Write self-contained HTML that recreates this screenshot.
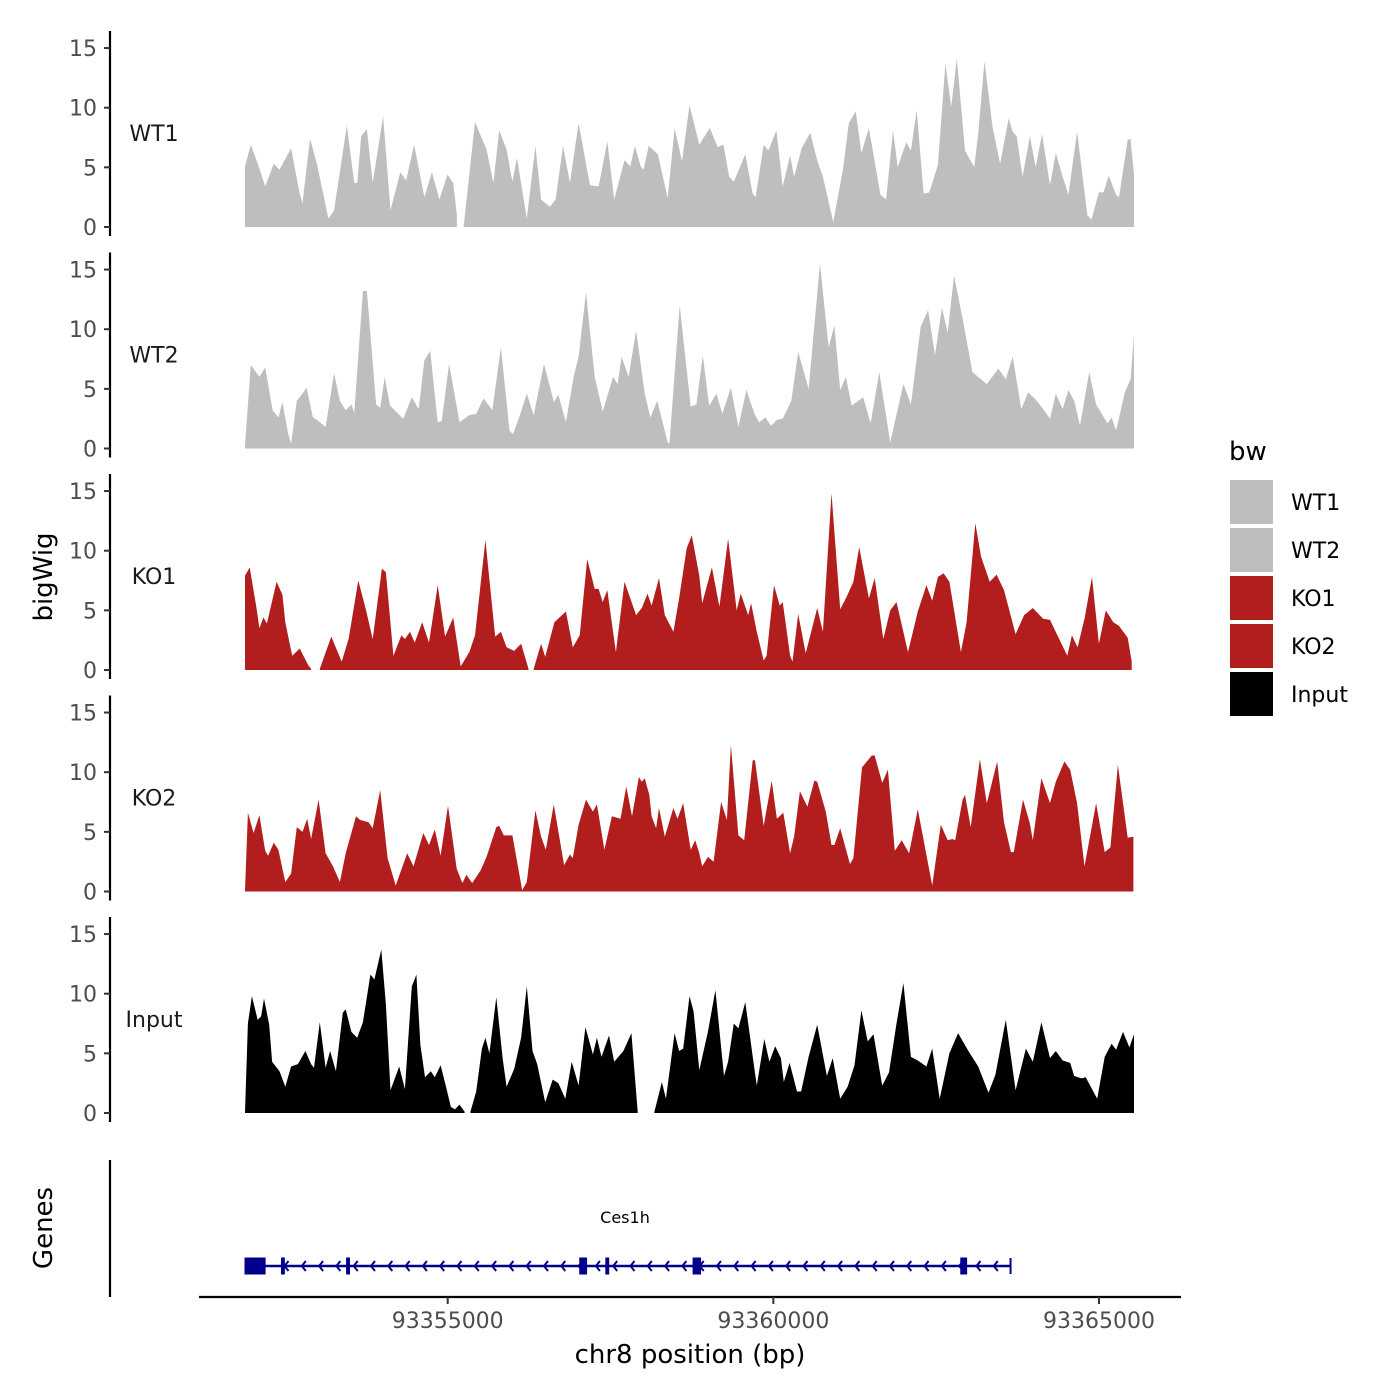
<!DOCTYPE html>
<html><head><meta charset="utf-8"><style>
html,body{margin:0;padding:0;background:#fff;}
svg{display:block;font-family:"DejaVu Sans","Liberation Sans",sans-serif;}
</style></head><body>
<svg id="chart" width="1400" height="1400" viewBox="0 0 1400 1400" xmlns="http://www.w3.org/2000/svg">
<rect x="0" y="0" width="1400" height="1400" fill="#fff"/>
<text x="0" y="0" transform="translate(52,577) rotate(-90)" text-anchor="middle" font-size="26" fill="#000">bigWig</text>
<text x="0" y="0" transform="translate(52,1228) rotate(-90)" text-anchor="middle" font-size="26" fill="#000">Genes</text>
<text x="690" y="1363" text-anchor="middle" font-size="26" fill="#000">chr8 position (bp)</text>
<g id="legend">
<text x="1229" y="460" font-size="26" fill="#000">bw</text>
</g>
</svg>
<script>
const START = 93351800;
const OFFSET_SCALE = 0.98864;
const trackNames = ["WT1","WT2","KO1","KO2","Input"];
const trackColors = ["#bebebe","#bebebe","#b21e1e","#b21e1e","#000000"];
const yTicks = [0,5,10,15];
const xTicks = [93355000,93360000,93365000];

const wt1Pos = [89,179,313,402,536,625,804,938,982,1098,1206,1384,1473,1670,1786,1831,1893,1982,2072,2233,2349,2500,2590,2715,2875,2992,3108,3233,3322,3380,3420,3483,3661,3840,3947,4036,4152,4242,4313,4465,4599,4688,4822,4912,5028,5135,5269,5447,5581,5715,5822,5983,6072,6144,6233,6278,6358,6501,6653,6760,6876,6992,7144,7305,7430,7519,7608,7680,7858,7974,8019,8144,8216,8341,8439,8555,8617,8734,8867,8975,9064,9225,9377,9466,9573,9662,9778,9957,10046,10153,10225,10359,10431,10520,10627,10716,10850,10966,11056,11145,11270,11413,11476,11574,11698,11815,11949,12011,12074,12163,12279,12368,12466,12591,12681,12788,12877,13011,13172,13234,13350,13422,13502,13618,13663,13797,13841,13895];
const wt1Val = [5.1,6.9,4.9,3.4,5.3,4.8,6.6,2.8,2.0,7.4,5.3,0.7,1.4,8.5,3.7,3.7,7.6,8.2,3.7,9.3,1.4,4.6,3.9,6.9,2.5,4.6,2.3,4.4,3.7,1.0,null,0,8.8,6.5,3.7,8.1,6.5,3.8,5.8,0.7,6.8,2.3,1.7,2.3,6.8,3.7,8.7,3.5,3.4,7.2,2.3,5.6,5.1,6.8,5.1,4.8,6.8,6.1,2.4,8.3,5.5,10.2,6.9,8.3,6.7,6.9,4.2,3.8,6.1,2.8,2.5,6.9,6.4,8.1,3.4,6.0,4.2,6.6,7.9,5.6,4.2,0.4,4.9,8.7,9.7,6.2,8.3,2.7,2.3,8.1,5.0,7.1,6.4,9.8,2.8,2.9,5.2,13.7,10.1,14.1,6.4,5.0,7.8,13.9,8.4,5.3,9.1,8.0,7.6,4.2,7.6,5.0,7.8,3.5,6.2,4.2,2.7,8.0,1.0,0.6,2.9,2.9,4.3,2.7,2.5,7.3,7.4,4.4];

const wt2Pos = [89,179,313,402,518,607,670,759,804,893,982,1045,1143,1206,1340,1473,1563,1652,1741,1786,1920,1982,2125,2188,2259,2340,2545,2679,2786,2875,2965,3081,3143,3259,3420,3572,3679,3795,3929,4063,4197,4251,4358,4465,4572,4733,4885,4956,5072,5197,5269,5385,5519,5644,5805,5876,5938,6046,6162,6296,6385,6492,6653,6680,6840,7010,7099,7198,7296,7412,7501,7635,7751,7876,8001,8073,8171,8260,8350,8439,8573,8680,8841,9019,9153,9243,9332,9421,9510,9689,9805,9939,10109,10314,10430,10582,10698,10805,10912,11002,11100,11234,11386,11609,11788,11904,12011,12145,12252,12368,12457,12591,12681,12788,12877,12966,13056,13199,13306,13484,13547,13618,13752,13842,13895];
const wt2Val = [0.3,7.0,6.0,6.8,3.2,2.6,3.9,1.2,0.4,4.0,4.6,5.1,2.6,2.4,1.8,6.3,4.0,3.2,3.7,3.0,13.2,13.2,3.7,3.4,6.0,3.6,2.5,4.3,3.3,7.4,8.2,2.2,2.3,7.1,2.2,2.8,2.9,4.2,3.2,8.5,1.5,1.2,2.8,4.6,2.8,7.1,3.9,4.5,2.2,6.1,7.7,13.1,6.0,3.1,6.0,5.4,7.7,6.0,9.9,4.6,2.6,4.0,0.5,0.4,12.0,3.5,3.7,7.8,3.6,4.6,2.9,5.1,1.8,4.9,2.9,2.2,2.6,1.9,2.4,2.5,4.0,8.1,5.0,15.5,8.5,10.3,4.9,6.0,3.6,4.3,2.1,6.4,0.5,5.4,3.7,10.2,11.6,7.8,11.8,9.7,14.5,10.9,6.4,5.4,6.7,5.8,7.7,3.3,4.7,4.1,3.5,2.5,4.6,3.3,4.9,4.0,1.9,6.4,3.7,2.1,2.6,1.5,4.7,5.8,9.5];

const ko1Pos = [89,161,268,313,375,429,580,670,714,822,938,1072,1116,1180,1250,1429,1590,1697,1849,1965,2072,2215,2277,2393,2518,2572,2652,2724,2840,2947,3081,3197,3322,3438,3572,3661,3822,3974,4063,4152,4269,4376,4492,4530,4572,4688,4751,4894,5072,5179,5287,5403,5519,5581,5644,5715,5849,5983,6162,6251,6340,6403,6519,6608,6742,6831,6948,7028,7144,7189,7340,7457,7591,7725,7787,7903,7948,8037,8144,8189,8305,8394,8439,8555,8591,8680,8796,8975,9064,9198,9332,9421,9537,9627,9778,9868,10002,10109,10207,10386,10537,10671,10761,10850,10939,11029,11207,11296,11430,11520,11654,11761,11877,12056,12189,12323,12484,12591,12698,12859,12931,13020,13127,13243,13350,13458,13574,13663,13797,13859];
const ko1Val = [7.9,8.6,5.2,3.5,4.4,3.9,7.4,6.3,4.0,1.2,1.8,0.4,0.1,null,0.1,2.8,0.7,2.6,7.5,5.1,2.6,8.5,8.2,1.2,2.9,2.6,3.2,2.3,4.0,2.3,7.1,2.8,4.4,0.3,1.5,2.9,10.9,2.8,3.2,1.9,1.6,2.2,0.1,null,0.1,2.2,1.1,4.0,4.9,1.9,2.9,9.3,6.8,6.8,5.7,6.7,1.5,7.4,4.6,5.2,6.4,5.4,7.7,4.6,3.2,6.0,10.2,11.3,7.9,5.6,8.6,5.3,11.0,5.0,6.4,4.6,5.6,3.2,0.8,1.2,7.1,5.4,5.7,1.2,0.7,4.7,1.4,5.2,3.2,14.8,5.1,6.0,7.4,10.3,6.0,7.7,2.6,5.0,5.7,1.5,4.9,7.1,5.8,7.8,8.1,7.4,1.5,4.0,12.3,9.5,7.4,8.0,6.7,3.0,4.6,5.2,4.3,4.2,3.0,1.2,2.9,1.9,4.3,7.8,2.2,5.0,4.0,3.7,2.7,0.7];

const ko2Pos = [89,134,223,313,402,447,536,607,714,804,893,982,1054,1116,1232,1340,1456,1563,1652,1813,1875,2009,2072,2188,2304,2429,2608,2706,2858,2947,3036,3126,3242,3376,3465,3527,3617,3751,3840,3992,4036,4108,4242,4394,4465,4599,4688,4760,4885,5045,5135,5179,5269,5385,5492,5554,5671,5787,5921,6010,6099,6206,6251,6296,6367,6403,6474,6519,6608,6742,6805,6894,7010,7081,7144,7189,7278,7367,7483,7573,7635,7751,7841,7974,8010,8144,8269,8350,8448,8555,8617,8707,8823,8930,8975,9109,9198,9243,9332,9484,9537,9671,9823,9868,9984,10073,10180,10287,10403,10537,10761,10895,11002,11073,11118,11234,11270,11359,11502,11609,11770,11877,11984,12029,12172,12279,12323,12457,12591,12681,12815,12904,13011,13127,13306,13440,13529,13645,13797,13886];
const ko2Val = [0.1,6.6,4.9,6.4,3.4,3.0,4.1,3.5,0.8,1.5,5.4,5.0,6.1,4.4,7.7,3.2,2.1,0.8,3.2,6.3,6.0,5.8,5.3,8.5,2.8,0.5,3.2,2.1,4.9,3.9,5.2,3.0,7.2,1.9,0.7,1.4,0.7,1.8,2.9,5.4,5.5,4.7,4.7,0.1,0.8,6.8,4.6,3.5,7.3,2.2,3.1,2.8,5.6,7.7,6.7,7.3,3.5,6.3,6.1,8.8,6.3,9.6,9.2,9.5,8.1,6.3,5.3,7.0,4.6,7.0,6.1,7.4,3.5,4.3,3.2,2.1,2.9,2.5,7.5,6.0,12.3,4.7,4.3,11.0,11.0,5.5,9.3,6.1,6.6,3.2,4.6,8.4,7.1,9.3,9.2,6.7,3.9,3.9,5.3,2.3,2.8,10.4,11.4,11.4,9.1,10.2,3.4,4.3,3.2,6.9,0.5,5.6,4.3,4.4,4.3,7.7,8.1,5.4,11.1,7.4,10.9,5.8,3.3,3.3,7.7,5.7,4.3,9.5,7.4,9.2,10.9,10.2,7.4,2.1,7.4,3.3,3.7,10.6,4.5,4.6];

const inputPos = [89,134,196,286,339,384,464,509,625,714,804,911,1027,1116,1161,1250,1340,1411,1500,1607,1652,1741,1831,1920,2036,2099,2206,2277,2349,2483,2572,2679,2750,2813,2884,2974,3036,3126,3215,3286,3349,3420,3500,3545,3590,3679,3768,3822,3885,3992,4090,4152,4269,4376,4465,4554,4626,4751,4867,4956,5063,5162,5269,5376,5492,5554,5626,5742,5822,5965,6090,6188,6320,6447,6564,6626,6760,6831,6894,6992,7055,7144,7278,7394,7528,7591,7680,7751,7858,7992,8037,8153,8233,8323,8412,8457,8546,8662,8725,8841,8975,9126,9216,9332,9448,9555,9662,9760,9850,9984,10091,10207,10314,10430,10537,10671,10761,10877,11029,11163,11323,11476,11636,11743,11904,12056,12216,12323,12457,12591,12681,12788,12904,12966,13082,13145,13323,13440,13547,13618,13725,13824,13895];
const inputVal = [0.1,7.5,9.8,7.8,8.1,9.6,7.4,4.3,3.5,2.2,3.9,4.1,5.2,4.1,3.8,7.6,3.8,5.2,3.5,8.4,8.7,6.8,6.3,7.6,11.6,11.2,13.7,9.1,1.9,3.9,2.0,10.6,11.6,5.7,3.0,3.5,3.0,4.0,2.1,0.5,0.3,0.7,0.1,null,0.1,1.8,5.4,6.3,5.0,9.7,4.6,2.2,3.7,6.3,10.6,5.2,4.1,0.9,2.8,2.5,1.2,4.3,2.3,7.2,4.9,6.3,4.7,6.5,4.3,5.2,6.7,0.1,null,0.1,2.6,1.2,6.7,5.2,5.4,9.8,8.5,3.6,6.8,10.3,3.1,4.3,7.5,7.1,9.3,4.0,2.3,6.2,4.3,5.6,4.6,2.6,4.2,1.8,1.8,4.7,7.4,3.1,4.6,1.2,2.2,4.0,8.6,6.0,6.6,2.3,3.4,7.5,10.9,4.7,4.4,3.9,5.4,1.2,5.0,6.7,5.2,3.9,1.7,3.2,7.8,1.9,5.4,4.3,7.6,4.6,5.2,4.4,4.2,3.1,2.9,3.0,1.2,4.7,5.8,5.3,6.8,5.5,6.6];

const geneName = "Ces1h";
const geneStart = 93351880, geneEnd = 93363642;
const exonStarts = [93351880,93352440,93353440,93357020,93357420,93358760,93362870];
const exonEnds   = [93352204,93352500,93353500,93357140,93357480,93358890,93362975];

const trackPos = [wt1Pos,wt2Pos,ko1Pos,ko2Pos,inputPos];
const trackVal = [wt1Val,wt2Val,ko1Val,ko2Val,inputVal];

const NS = "http://www.w3.org/2000/svg";
const svg = document.getElementById("chart");
function xs(bp){ return 447.7 + (bp - 93355000) * 0.06513; }
function baseY(i){ return 227 + i * 221.5; }
function ys(i, v){ return baseY(i) - v * 11.93; }
function mk(tag, attrs, parent){
  const e = document.createElementNS(NS, tag);
  for (const k in attrs) e.setAttribute(k, attrs[k]);
  (parent || svg).appendChild(e);
  return e;
}

trackNames.forEach((name, i) => {
  const g = mk("g", {});
  
  
  const pos = trackPos[i], val = trackVal[i];
  let seg = [];
  const segs = [];
  for (let k = 0; k < pos.length; k++) {
    if (val[k] === null) { if (seg.length) segs.push(seg); seg = []; }
    else seg.push([xs(START + pos[k] * OFFSET_SCALE), ys(i, val[k])]);
  }
  if (seg.length) segs.push(seg);
  segs.forEach(s => {
    let d = "M" + s[0][0].toFixed(1) + "," + baseY(i);
    s.forEach(p => { d += "L" + p[0].toFixed(1) + "," + p[1].toFixed(1); });
    d += "L" + s[s.length-1][0].toFixed(1) + "," + baseY(i) + "Z";
    const p = mk("path", {d: d, fill: trackColors[i], stroke: "none"}, g);
    
    
  });
  const ax = mk("line", {x1:110, x2:110, y1: baseY(i)-196, y2: baseY(i)+9, stroke:"#000", "stroke-width":2.2});
  
  
  yTicks.forEach(t => {
    const tk = mk("line", {x1:104, x2:110, y1: ys(i,t), y2: ys(i,t), stroke:"#333", "stroke-width":2});
    
    
    const tl = mk("text", {x:97, y: ys(i,t)+8, "text-anchor":"end", "font-size":22, fill:"#4d4d4d"});
    tl.textContent = t;
    
    
  });
  const lab = mk("text", {x:154, y: baseY(i)-86, "text-anchor":"middle", "font-size":22, fill:"#1a1a1a"});
  lab.textContent = name;
  
  

  const lg = document.getElementById("legend");
  const r = mk("rect", {x:1230, y: 480 + i*48, width:43, height:44, fill: trackColors[i]}, lg);
  
  
  const lt = mk("text", {x:1291, y: 510 + i*48, "font-size":22, fill:"#000"}, lg);
  lt.textContent = name;
  
  
});

const gax = mk("line", {x1:110, x2:110, y1:1160, y2:1297, stroke:"#000", "stroke-width":2.2});


const xax = mk("line", {x1:199, x2:1181, y1:1297, y2:1297, stroke:"#000", "stroke-width":2.2});


xTicks.forEach(t => {
  const tk = mk("line", {x1: xs(t), x2: xs(t), y1:1297, y2:1304, stroke:"#333", "stroke-width":2});
  
  
  const tl = mk("text", {x: xs(t), y:1328, "text-anchor":"middle", "font-size":22, fill:"#4d4d4d"});
  tl.textContent = t;
  
  
});

const gg = mk("g", {});


const gy = 1266;
const gl = mk("line", {x1: xs(geneStart), x2: xs(geneEnd), y1: gy, y2: gy, stroke:"#00008b", "stroke-width":2.5}, gg);


const gend = mk("line", {x1: xs(geneEnd), x2: xs(geneEnd), y1: gy-8, y2: gy+8, stroke:"#00008b", "stroke-width":2}, gg);


for (let ax = xs(geneStart) + 40; ax < xs(geneEnd) - 5; ax += 17.3) {
  const a = mk("path", {d: "M"+(ax+4)+","+(gy-5)+"L"+ax+","+gy+"L"+(ax+4)+","+(gy+5), fill:"none", stroke:"#00008b", "stroke-width":2}, gg);
  
  
}
exonStarts.forEach((s, k) => {
  const e = mk("rect", {x: xs(s), y: gy-8.5, width: Math.max(3, xs(exonEnds[k]) - xs(s)), height: 17, fill:"#00008b"}, gg);
  
  
});
const gt = mk("text", {x: 625, y: 1223, "text-anchor":"middle", "font-size":16, fill:"#000"}, gg);
gt.textContent = geneName;


</script>
</body></html>
